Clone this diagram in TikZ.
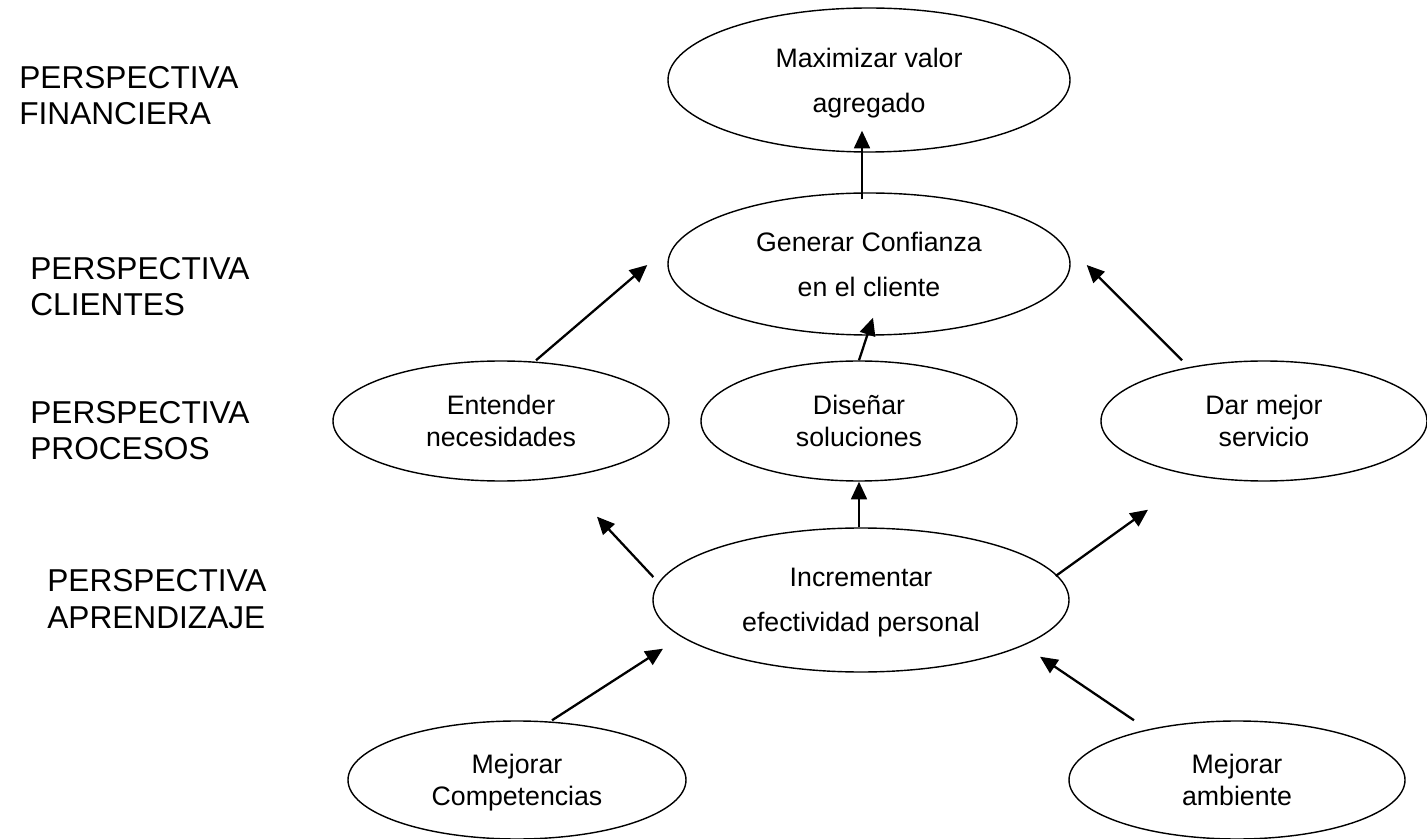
\documentclass[tikz,border=0pt]{standalone}
\usepackage{fontspec}
\setmainfont{Liberation Sans}
\usepackage{tikz}
\usetikzlibrary{shapes.geometric,arrows.meta,calc}

\tikzset{
  objetivo/.style={draw, ellipse, line width=0.8pt, inner sep=0pt, text depth=0pt, align=center},
  ancho/.style={font={\fontsize{15.2}{25.5}\selectfont}},
  angosto/.style={font={\fontsize{15.2}{18}\selectfont}},
  flecha/.style={line width=1.3pt, -{Triangle[length=10pt,width=9pt]}},
  perspectiva/.style={anchor=base west, inner sep=0pt, align=left, font={\fontsize{18}{21}\selectfont}}
}

\begin{document}
\begin{tikzpicture}
        \useasboundingbox (0,0) rectangle (28.54,-16.78);

        %Perspectivas
        \node[perspectiva] (pfin) at (0.38,-2.50) {PERSPECTIVA\\FINANCIERA};
        \node[perspectiva] (pcli) at (0.60,-6.32) {PERSPECTIVA\\CLIENTES};
        \node[perspectiva] (ppro) at (0.60,-9.20) {PERSPECTIVA\\PROCESOS};
        \node[perspectiva] (papr) at (0.94,-12.56) {PERSPECTIVA\\APRENDIZAJE};

        %Objetivos
        \node[objetivo, ancho, minimum width=8.04cm, minimum height=2.88cm] (max) at (17.38,-1.60) {Maximizar valor\\agregado};
        \node[objetivo, ancho, minimum width=8.04cm, minimum height=2.84cm] (gen) at (17.38,-5.28) {Generar Confianza\\en el cliente};
        \node[objetivo, angosto, minimum width=6.72cm, minimum height=2.40cm] (ent) at (10.02,-8.42) {Entender\\necesidades};
        \node[objetivo, angosto, minimum width=6.32cm, minimum height=2.40cm] (dis) at (17.18,-8.42) {Diseñar\\soluciones};
        \node[objetivo, angosto, minimum width=6.52cm, minimum height=2.40cm] (dar) at (25.28,-8.42) {Dar mejor\\servicio};
        \node[objetivo, ancho, minimum width=8.32cm, minimum height=2.88cm] (inc) at (17.22,-12.00) {Incrementar\\efectividad personal};
        \node[objetivo, angosto, minimum width=6.76cm, minimum height=2.36cm] (com) at (10.34,-15.60) {Mejorar\\Competencias};
        \node[objetivo, angosto, minimum width=6.72cm, minimum height=2.36cm] (amb) at (24.74,-15.60) {Mejorar\\ambiente};

        %Relaciones causa-efecto
        \draw[flecha] ($(gen.north)+(-0.14,-0.14)$) -- ($(max.south)+(-0.14,0.44)$);
        \draw[flecha] ($(ent.north)+(0.70,0)$) -- ($(gen.west)+(-0.40,-0.02)$);
        \draw[flecha] (dis.north) -- ($(gen.south)+(0.08,0.36)$);
        \draw[flecha] ($(dar.north)+(-1.64,0)$) -- ($(gen.east)+(0.32,-0.02)$);
        \draw[flecha] ($(inc.west)+(0.02,0.46)$) -- ($(ent.south)+(1.92,-0.70)$);
        \draw[flecha] (dis.south |- inc.north) -- (dis.south);
        \draw[flecha] ($(inc.east)+(-0.28,0.48)$) -- ($(dar.south)+(-2.32,-0.56)$);
        \draw[flecha] ($(com.north)+(0.70,0)$) -- ($(inc.south)+(-3.96,0.48)$);
        \draw[flecha] ($(amb.north)+(-2.06,0)$) -- ($(inc.south)+(3.58,0.32)$);
    \end{tikzpicture}
\end{document}
